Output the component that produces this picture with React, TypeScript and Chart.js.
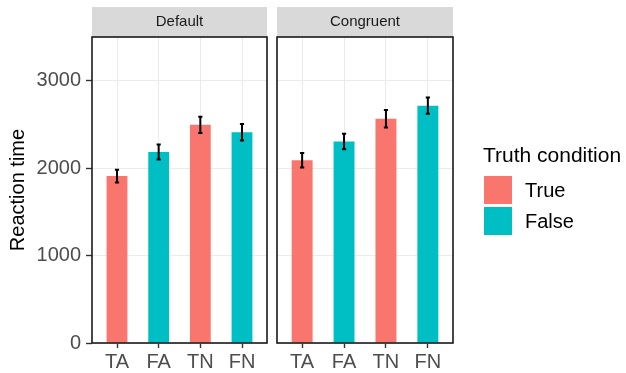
import React, { useEffect, useRef } from "react";
import { Chart, registerables } from "chart.js";

Chart.register(...registerables);

// ---------- data ----------
const categories = ["TA", "FA", "TN", "FN"];
const truthOfCategory = [true, false, true, false];
const panelTitles = ["Default", "Congruent"];
const defaultValues = [1910, 2185, 2495, 2410];
const defaultErrors = [73, 85, 92, 95];
const congruentValues = [2090, 2305, 2565, 2715];
const congruentErrors = [82, 88, 99, 93];
const yTicks = [0, 1000, 2000, 3000];
const yMax = 3500;
const yTitle = "Reaction time";
const legendTitle = "Truth condition";
const legendLabels = ["True", "False"];

// ---------- style ----------
const RED = "#F8766D";
const TEAL = "#00BFC4";
const FONT = '"Liberation Sans", Arial, Helvetica, sans-serif';
const legendColors = [RED, TEAL];

const stripPlugin = {
  id: "strip",
  beforeDraw(chart: any, _args: any, opts: any) {
    const { ctx, chartArea: ca } = chart;
    ctx.save();
    ctx.fillStyle = "#D9D9D9";
    ctx.fillRect(ca.left, ca.top - 30, ca.right - ca.left, 30);
    ctx.fillStyle = "#1A1A1A";
    ctx.font = `15px ${FONT}`;
    ctx.textAlign = "center";
    ctx.textBaseline = "middle";
    ctx.fillText(opts.text, (ca.left + ca.right) / 2, ca.top - 15);
    ctx.restore();
  },
};

const borderPlugin = {
  id: "panelBorder",
  afterDraw(chart: any) {
    const { ctx, chartArea: ca } = chart;
    ctx.save();
    ctx.strokeStyle = "#1A1A1A";
    ctx.lineWidth = 1.6;
    ctx.strokeRect(ca.left, ca.top, ca.right - ca.left, ca.bottom - ca.top);
    ctx.restore();
  },
};

const errorBarPlugin = {
  id: "errorBars",
  afterDatasetsDraw(chart: any, _args: any, opts: any) {
    const { ctx } = chart;
    const xs = chart.scales.x;
    const ys = chart.scales.y;
    const vals: number[] = opts.values;
    const errs: number[] = opts.errors;
    ctx.save();
    ctx.strokeStyle = "#000";
    ctx.lineWidth = 2;
    const half = xs.getPixelForValue(0.05) - xs.getPixelForValue(0);
    vals.forEach((v, i) => {
      const x = xs.getPixelForValue(i);
      const y1 = ys.getPixelForValue(v + errs[i]);
      const y2 = ys.getPixelForValue(v - errs[i]);
      ctx.beginPath();
      ctx.moveTo(x, y1);
      ctx.lineTo(x, y2);
      ctx.moveTo(x - half, y1);
      ctx.lineTo(x + half, y1);
      ctx.moveTo(x - half, y2);
      ctx.lineTo(x + half, y2);
      ctx.stroke();
    });
    ctx.restore();
  },
};

const legendPlugin = {
  id: "sideLegend",
  afterDraw(chart: any, _args: any, opts: any) {
    if (!opts.show) return;
    const { ctx, chartArea: ca } = chart;
    const x0 = ca.right + 30;
    ctx.save();
    ctx.fillStyle = "#000";
    ctx.font = `21px ${FONT}`;
    ctx.textAlign = "left";
    ctx.textBaseline = "middle";
    ctx.fillText(legendTitle, x0, 156);
    legendLabels.forEach((lab, i) => {
      const top = 176 + i * 31;
      ctx.fillStyle = legendColors[i];
      ctx.fillRect(x0 + 1, top, 28, 28);
      ctx.fillStyle = "#000";
      ctx.font = `20px ${FONT}`;
      ctx.fillText(lab, x0 + 42, top + 15);
    });
    ctx.restore();
  },
};

type PanelProps = {
  title: string;
  values: number[];
  errors: number[];
  showY: boolean;
  showLegend: boolean;
  left: number;
  width: number;
  padding: { left: number; right: number; top: number; bottom: number };
};

function Panel(p: PanelProps) {
  const ref = useRef<HTMLCanvasElement>(null);
  useEffect(() => {
    if (!ref.current) return;
    const colors = truthOfCategory.map((t) => (t ? RED : TEAL));
    const chart = new Chart(ref.current, {
      type: "bar",
      data: {
        datasets: [
          {
            data: p.values.map((v, i) => ({ x: i, y: v })),
            backgroundColor: colors,
            borderWidth: 0,
            barPercentage: 0.5,
            categoryPercentage: 1,
          },
        ],
      },
      options: {
        animation: false,
        responsive: false,
        devicePixelRatio: 1,
        layout: { padding: p.padding },
        plugins: {
          legend: { display: false },
          tooltip: { enabled: false },
          strip: { text: p.title },
          errorBars: { values: p.values, errors: p.errors },
          sideLegend: { show: p.showLegend },
        } as any,
        scales: {
          x: {
            type: "linear",
            min: -0.6,
            max: 3.6,
            offset: false,
            afterBuildTicks: (s: any) => {
              s.ticks = categories.map((_, i) => ({ value: i }));
            },
            afterFit: (s: any) => {
              s.height = 30;
            },
            grid: {
              offset: false,
              color: "#EBEBEB",
              lineWidth: 1,
              drawTicks: true,
              tickLength: 5,
              tickColor: "#333333",
              tickWidth: 1.4,
            },
            border: { display: false },
            ticks: {
              autoSkip: false,
              maxRotation: 0,
              padding: 2,
              color: "#4D4D4D",
              font: { family: FONT, size: 20 },
              callback: (v: any) => categories[v as number] ?? "",
            },
          },
          y: {
            min: 0,
            max: yMax,
            afterBuildTicks: (s: any) => {
              s.ticks = yTicks.map((v) => ({ value: v }));
            },
            afterFit: (s: any) => {
              s.width = p.showY ? 92 : 0;
            },
            grid: {
              color: "#EBEBEB",
              lineWidth: 1,
              drawTicks: p.showY,
              tickLength: p.showY ? 6 : 0,
              tickColor: "#333333",
              tickWidth: 1.4,
            },
            border: { display: false },
            ticks: {
              display: p.showY,
              padding: 5,
              color: "#4D4D4D",
              font: { family: FONT, size: 20 },
              callback: (v: any) => String(v),
            },
            title: {
              display: p.showY,
              text: yTitle,
              color: "#000",
              font: { family: FONT, size: 20 },
              padding: { top: 6, bottom: 0 },
            },
          },
        },
      } as any,
      plugins: [stripPlugin, errorBarPlugin, borderPlugin, legendPlugin],
    });
    return () => chart.destroy();
  }, []);
  return (
    <canvas
      ref={ref}
      width={p.width}
      height={373}
      style={{ position: "absolute", left: p.left, top: 0, width: p.width, height: 373 }}
    />
  );
}

export default function App() {
  return (
    <div style={{ position: "absolute", left: 0, top: 0, width: 626, height: 373, background: "#fff" }}>
      <Panel
        title={panelTitles[0]}
        values={defaultValues}
        errors={defaultErrors}
        showY={true}
        showLegend={false}
        left={0}
        width={268}
        padding={{ left: 0, right: 1, top: 37, bottom: 0 }}
      />
      <Panel
        title={panelTitles[1]}
        values={congruentValues}
        errors={congruentErrors}
        showY={false}
        showLegend={true}
        left={272}
        width={354}
        padding={{ left: 5, right: 173, top: 37, bottom: 0 }}
      />
    </div>
  );
}
